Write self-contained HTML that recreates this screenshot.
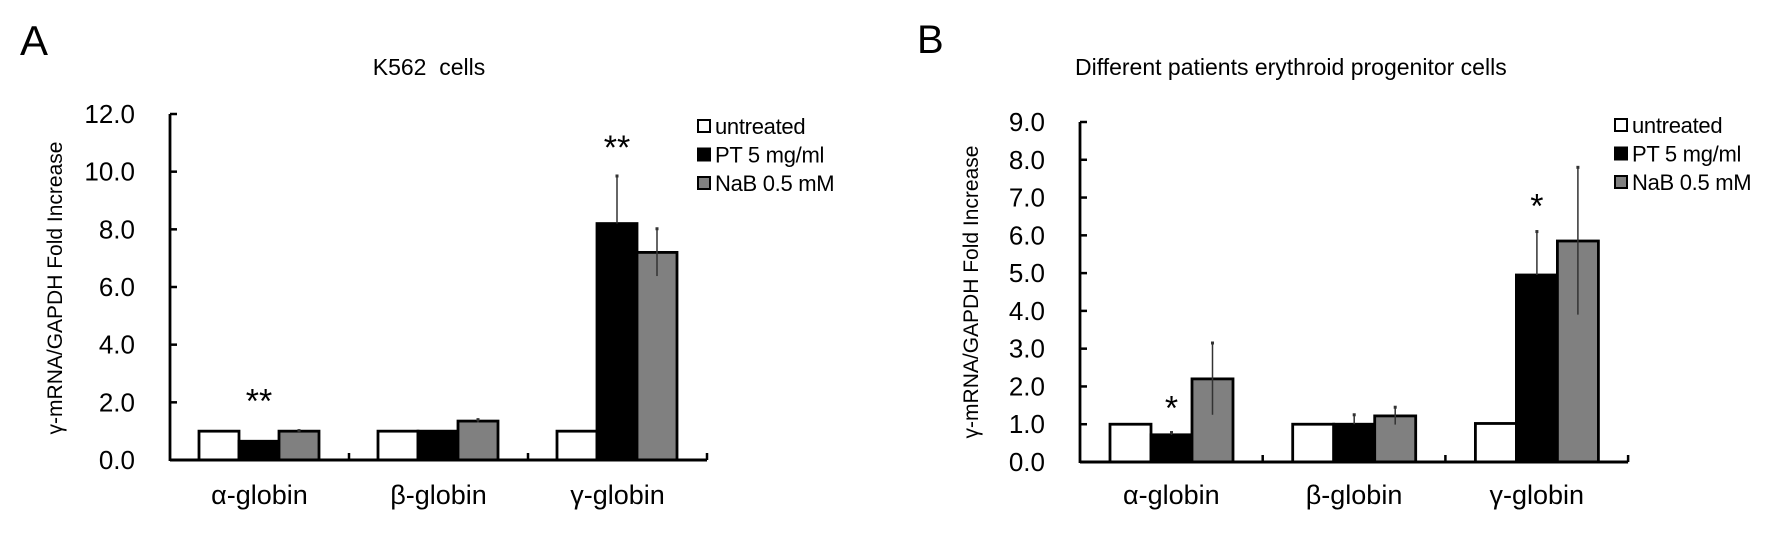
<!DOCTYPE html>
<html><head><meta charset="utf-8"><style>
html,body{margin:0;padding:0;background:#fff;}
svg{display:block;font-family:"Liberation Sans",sans-serif;}
</style></head><body>
<svg id="fig" width="1772" height="537" viewBox="0 0 1772 537" xmlns="http://www.w3.org/2000/svg">
<text x="20" y="55" font-size="42">A</text>
<text x="429" y="75" font-size="23" text-anchor="middle" xml:space="preserve">K562  cells</text>
<text x="917" y="53" font-size="40">B</text>
<text x="1075" y="75" font-size="23">Different patients erythroid progenitor cells</text>
<g id="chartA"></g>
<g id="chartB"></g>
</svg>
<script>
const categories = ["α-globin", "β-globin", "γ-globin"];
const seriesNames = ["untreated", "PT 5 mg/ml", "NaB 0.5 mM"];
const fills = ["#ffffff", "#000000", "#808080"];
// Panel A
const aUntreated = [1.0, 1.0, 1.0];
const aPT = [0.65, 1.0, 8.2];
const aNaB = [1.0, 1.35, 7.2];
const aErrUntreated = [0, 0, 0];
const aErrPT = [0, 0, 1.65];
const aErrNaB = [0.02, 0.05, 0.82];
const aTicks = ["0.0","2.0","4.0","6.0","8.0","10.0","12.0"];
const aStars = [{cat:0, ser:1, y:2.2, label:"**"}, {cat:2, ser:1, y:11.0, label:"**"}];
// Panel B
const bUntreated = [1.0, 1.0, 1.02];
const bPT = [0.72, 1.0, 4.95];
const bNaB = [2.2, 1.22, 5.85];
const bErrUntreated = [0, 0, 0];
const bErrPT = [0.06, 0.25, 1.15];
const bErrNaB = [0.95, 0.23, 1.95];
const bTicks = ["0.0","1.0","2.0","3.0","4.0","5.0","6.0","7.0","8.0","9.0"];
const bStars = [{cat:0, ser:1, y:1.55, label:"*"}, {cat:2, ser:1, y:6.9, label:"*"}];

const NS = "http://www.w3.org/2000/svg";
function mk(parent, tag, attrs, text) {
  const e = document.createElementNS(NS, tag);
  for (const k in attrs) e.setAttribute(k, attrs[k]);
  if (text !== undefined) e.textContent = text;
  parent.appendChild(e);
  return e;
}

function drawChart(g, cfg) {
  const yMax = parseFloat(cfg.ticks[cfg.ticks.length - 1]);
  const yS = v => cfg.y0 - (v / yMax) * (cfg.y0 - cfg.yTop);
  const gw = cfg.groupW;
  const xG = i => cfg.x0 + i * gw;
  const series = [cfg.s0, cfg.s1, cfg.s2];
  const errs = [cfg.e0, cfg.e1, cfg.e2];
  cfg.ticks.forEach(t => {
    const v = parseFloat(t);
    const y = yS(v);
    const tl = mk(g, "line", {x1: cfg.x0, x2: cfg.x0 + 7, y1: y, y2: y, stroke: "#000", "stroke-width": 2.5});
    
    
    const tx = mk(g, "text", {x: cfg.labelX, y: y + 9, "font-size": 26, "text-anchor": "end"}, t);
    
    
  });
  categories.forEach((c, i) => {
    series.forEach((s, j) => {
      const bx = xG(i) + cfg.barOff + j * cfg.barW;
      const top = yS(s[i]);
      const r = mk(g, "rect", {x: bx, y: top, width: cfg.barW, height: cfg.y0 - top, fill: fills[j], stroke: "#000", "stroke-width": 2.8});
      
      
      const e = errs[j][i];
      if (e > 0) {
        const cx = bx + cfg.barW / 2;
        const lo = j === 2 ? s[i] - e : s[i];
        const el = mk(g, "line", {x1: cx, x2: cx, y1: yS(s[i] + e), y2: yS(lo), stroke: "#333", "stroke-width": 1.5});
        
        
        const c1 = mk(g, "rect", {x: cx - 1.5, y: yS(s[i] + e) - 1.5, width: 3, height: 3, fill: "#333"});
        
        
      }
    });
    const cl = mk(g, "text", {x: xG(i) + gw / 2, y: 504, "font-size": 27, "text-anchor": "middle"}, c);
    
    
    if (i > 0) {
      const gt = mk(g, "line", {x1: xG(i), x2: xG(i), y1: cfg.y0, y2: cfg.y0 - 7, stroke: "#000", "stroke-width": 2.5});
      
      
    }
  });
  const endT = mk(g, "line", {x1: xG(3), x2: xG(3), y1: cfg.y0, y2: cfg.y0 - 7, stroke: "#000", "stroke-width": 2.5});
  
  
  const ya = mk(g, "line", {x1: cfg.x0, x2: cfg.x0, y1: cfg.yTop, y2: cfg.y0 + 1, stroke: "#000", "stroke-width": 2.8});
  
  
  const xa = mk(g, "line", {x1: cfg.x0, x2: xG(3), y1: cfg.y0, y2: cfg.y0, stroke: "#000", "stroke-width": 3});
  
  
  cfg.stars.forEach(st => {
    const sx = xG(st.cat) + cfg.barOff + st.ser * cfg.barW + cfg.barW / 2;
    const s = mk(g, "text", {x: sx, y: yS(st.y) + 16, "font-size": 34, "text-anchor": "middle"}, st.label);
    
    
  });
  const yt = mk(g, "text", {x: 0, y: 0, "font-size": 21, "text-anchor": "middle", transform: "translate(" + cfg.titleX + "," + cfg.titleY + ") rotate(-90)"}, "γ-mRNA/GAPDH Fold Increase");
  
  
  seriesNames.forEach((n, j) => {
    const ly = cfg.legY + j * 28.5;
    const b = mk(g, "rect", {x: cfg.legX, y: ly - 6, width: 12, height: 12, fill: fills[j], stroke: "#000", "stroke-width": 2});
    
    
    const t = mk(g, "text", {x: cfg.legX + 17, y: ly + 8, "font-size": 22, "letter-spacing": "-0.3"}, n);
    
    
  });
}

drawChart(document.getElementById("chartA"), {
  x0: 170, y0: 460, yTop: 114, groupW: 179, barOff: 29, barW: 40,
  ticks: aTicks, s0: aUntreated, s1: aPT, s2: aNaB, e0: aErrUntreated, e1: aErrPT, e2: aErrNaB,
  stars: aStars, labelX: 135, titleX: 62, titleY: 288, legX: 698, legY: 126
});
drawChart(document.getElementById("chartB"), {
  x0: 1080, y0: 462, yTop: 122, groupW: 182.7, barOff: 30, barW: 41,
  ticks: bTicks, s0: bUntreated, s1: bPT, s2: bNaB, e0: bErrUntreated, e1: bErrPT, e2: bErrNaB,
  stars: bStars, labelX: 1045, titleX: 978, titleY: 292, legX: 1615, legY: 125
});
</script>
</body></html>
